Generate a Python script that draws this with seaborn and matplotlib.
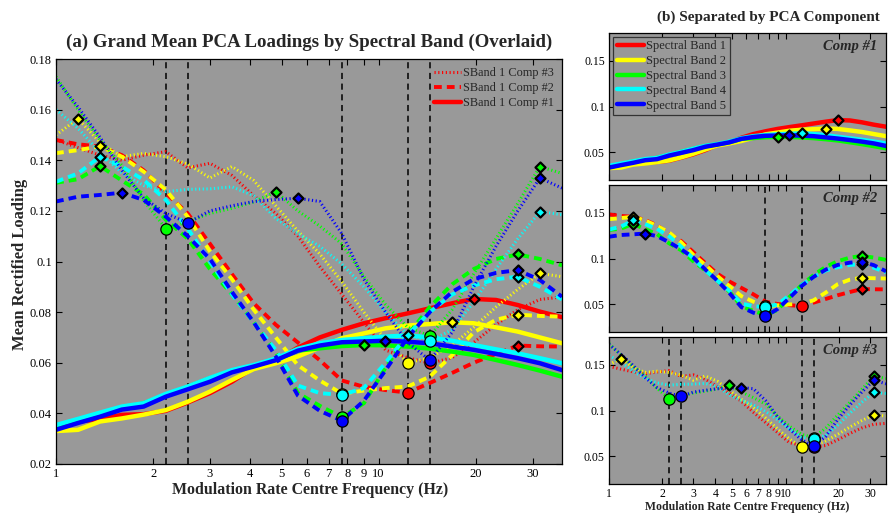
import matplotlib
matplotlib.use("Agg")
import numpy as np
import pandas as pd
import matplotlib.pyplot as plt
from matplotlib.lines import Line2D
from matplotlib.ticker import FixedLocator, FixedFormatter, NullLocator
import seaborn as sns

sns.set_style("ticks")
plt.rcParams["font.family"] = ["Liberation Serif", "DejaVu Serif"]

# Modulation-rate filter centre frequencies (Hz)
freq = [1.00, 1.17, 1.37, 1.60, 1.87, 2.19, 2.56, 3.00, 3.51, 4.10, 4.80, 5.62,
        6.57, 7.69, 9.00, 10.5, 12.3, 14.4, 16.9, 19.7, 23.1, 27.0, 31.6, 37.0]

band_names = ["Spectral Band 1", "Spectral Band 2", "Spectral Band 3",
              "Spectral Band 4", "Spectral Band 5"]
band_colors = ["#ff0000", "#ffff00", "#00ff00", "#00ffff", "#0000ff"]

# Component 1 loadings per band
comp1_band1 = [0.0335, 0.0367, 0.0378, 0.0394, 0.0397, 0.0410, 0.0443, 0.0480, 0.0525, 0.0580, 0.0608, 0.0660,
               0.0700, 0.0730, 0.0756, 0.0776, 0.0795, 0.0815, 0.0835, 0.0852, 0.0848, 0.0828, 0.0802, 0.0780]
comp1_band2 = [0.0330, 0.0335, 0.0368, 0.0380, 0.0395, 0.0413, 0.0446, 0.0486, 0.0532, 0.0575, 0.0598, 0.0625,
               0.0660, 0.0697, 0.0716, 0.0736, 0.0747, 0.0753, 0.0760, 0.0756, 0.0740, 0.0723, 0.0700, 0.0677]
comp1_band3 = [0.0340, 0.0370, 0.0400, 0.0420, 0.0440, 0.0472, 0.0505, 0.0538, 0.0568, 0.0588, 0.0612, 0.0648,
               0.0657, 0.0666, 0.0670, 0.0669, 0.0664, 0.0656, 0.0644, 0.0631, 0.0611, 0.0591, 0.0569, 0.0545]
comp1_band4 = [0.0354, 0.0378, 0.0403, 0.0427, 0.0440, 0.0477, 0.0506, 0.0540, 0.0571, 0.0591, 0.0617, 0.0655,
               0.0677, 0.0690, 0.0697, 0.0703, 0.0708, 0.0700, 0.0687, 0.0670, 0.0653, 0.0637, 0.0618, 0.0598]
comp1_band5 = [0.0335, 0.0362, 0.0387, 0.0415, 0.0427, 0.0466, 0.0495, 0.0525, 0.0562, 0.0585, 0.0610, 0.0648,
               0.0668, 0.0681, 0.0684, 0.0687, 0.0683, 0.0677, 0.0664, 0.0651, 0.0635, 0.0618, 0.0598, 0.0571]

# Component 2 loadings per band
comp2_band1 = [0.1480, 0.1463, 0.1454, 0.1420, 0.1360, 0.1270, 0.1190, 0.1070, 0.0950, 0.0835, 0.0750, 0.0680,
               0.0610, 0.0530, 0.0505, 0.0492, 0.0482, 0.0520, 0.0560, 0.0600, 0.0635, 0.0668, 0.0665, 0.0664]
comp2_band2 = [0.1428, 0.1440, 0.1455, 0.1414, 0.1355, 0.1283, 0.1177, 0.1040, 0.0930, 0.0810, 0.0700, 0.0590,
               0.0530, 0.0478, 0.0490, 0.0500, 0.0506, 0.0545, 0.0630, 0.0720, 0.0770, 0.0790, 0.0785, 0.0782]
comp2_band3 = [0.1311, 0.1325, 0.1377, 0.1320, 0.1265, 0.1165, 0.1090, 0.0970, 0.0870, 0.0760, 0.0640, 0.0480,
               0.0430, 0.0385, 0.0440, 0.0580, 0.0710, 0.0820, 0.0910, 0.0970, 0.1010, 0.1028, 0.1010, 0.0985]
comp2_band4 = [0.1315, 0.1348, 0.1414, 0.1375, 0.1322, 0.1243, 0.1130, 0.1000, 0.0870, 0.0760, 0.0650, 0.0510,
               0.0480, 0.0473, 0.0500, 0.0600, 0.0710, 0.0800, 0.0870, 0.0905, 0.0930, 0.0940, 0.0900, 0.0850]
comp2_band5 = [0.1237, 0.1256, 0.1263, 0.1272, 0.1243, 0.1177, 0.1100, 0.1010, 0.0880, 0.0760, 0.0625, 0.0470,
               0.0410, 0.0371, 0.0450, 0.0570, 0.0700, 0.0800, 0.0880, 0.0930, 0.0955, 0.0966, 0.0927, 0.0861]

# Component 3 loadings per band
comp3_band1 = [0.1480, 0.1450, 0.1420, 0.1400, 0.1420, 0.1434, 0.1370, 0.1388, 0.1340, 0.1260, 0.1190, 0.1100,
               0.0980, 0.0870, 0.0760, 0.0650, 0.0620, 0.0598, 0.0620, 0.0680, 0.0750, 0.0810, 0.0850, 0.0860]
comp3_band2 = [0.1500, 0.1564, 0.1470, 0.1414, 0.1427, 0.1414, 0.1385, 0.1330, 0.1375, 0.1320, 0.1220, 0.1120,
               0.1030, 0.0920, 0.0800, 0.0690, 0.0600, 0.0620, 0.0670, 0.0740, 0.0820, 0.0890, 0.0953, 0.0940]
comp3_band3 = [0.1730, 0.1600, 0.1480, 0.1380, 0.1240, 0.1130, 0.1157, 0.1190, 0.1210, 0.1235, 0.1276, 0.1200,
               0.1140, 0.1070, 0.0940, 0.0830, 0.0740, 0.0706, 0.0810, 0.0950, 0.1090, 0.1230, 0.1375, 0.1348]
comp3_band4 = [0.1600, 0.1526, 0.1430, 0.1350, 0.1300, 0.1276, 0.1285, 0.1287, 0.1295, 0.1260, 0.1170, 0.1110,
               0.1060, 0.0990, 0.0900, 0.0800, 0.0710, 0.0687, 0.0730, 0.0840, 0.0970, 0.1090, 0.1197, 0.1185]
comp3_band5 = [0.1720, 0.1610, 0.1490, 0.1360, 0.1250, 0.1190, 0.1153, 0.1200, 0.1220, 0.1237, 0.1245, 0.1250,
               0.1237, 0.1110, 0.0930, 0.0800, 0.0680, 0.0610, 0.0720, 0.0900, 0.1060, 0.1200, 0.1330, 0.1290]

loadings = {
    1: [comp1_band1, comp1_band2, comp1_band3, comp1_band4, comp1_band5],
    2: [comp2_band1, comp2_band2, comp2_band3, comp2_band4, comp2_band5],
    3: [comp3_band1, comp3_band2, comp3_band3, comp3_band4, comp3_band5],
}

# Indices of marked peaks (diamonds) and troughs (circles), per component and band
peaks = {
    1: [[19], [18], [14], [16], [15]],
    2: [[21], [2, 21], [2, 21], [2, 21], [3, 21]],
    3: [[], [1, 22], [10, 22], [22], [11, 22]],
}
troughs = {
    1: [[], [], [], [], []],
    2: [[16], [13], [13], [13], [13]],
    3: [[17], [16], [5, 17], [17], [6, 17]],
}

rows = []
for comp, bands in loadings.items():
    for b, vals in enumerate(bands):
        for f, v in zip(freq, vals):
            rows.append({"freq": f, "loading": v, "band": band_names[b], "comp": comp})
df = pd.DataFrame(rows)

line_styles = {
    1: dict(linestyle="-", lw=3.2),
    2: dict(linestyle=(0, (2.0, 1.3)), lw=2.8),
    3: dict(linestyle=(0, (0.38, 0.85)), lw=2.2),
}

GRAY = "#999999"
xticks = [1, 2, 3, 4, 5, 6, 7, 8, 9, 10, 20, 30]


def style_axes(ax, yticks, ylabels, label_size, show_x=True):
    ax.set_facecolor(GRAY)
    ax.set_xscale("log")
    ax.set_xlim(1, 37)
    ax.set_ylim(0.02, 0.18)
    ax.xaxis.set_major_locator(FixedLocator(xticks))
    ax.xaxis.set_major_formatter(FixedFormatter([str(t) for t in xticks]))
    ax.xaxis.set_minor_locator(NullLocator())
    ax.yaxis.set_major_locator(FixedLocator(yticks))
    ax.yaxis.set_major_formatter(FixedFormatter(ylabels))
    ax.yaxis.set_minor_locator(NullLocator())
    ax.tick_params(direction="in", top=True, right=True, length=4, width=0.8,
                   labelsize=label_size, colors="k", pad=3)
    if not show_x:
        ax.tick_params(labelbottom=False)
    for sp in ax.spines.values():
        sp.set_linewidth(0.9)
        sp.set_color("k")
    ax.set_xlabel("")
    ax.set_ylabel("")


def draw_component(ax, comp, zbase=2):
    for b in range(5):
        sub = df[(df["comp"] == comp) & (df["band"] == band_names[b])]
        sns.lineplot(data=sub, x="freq", y="loading", ax=ax, color=band_colors[b],
                     estimator=None, sort=False, legend=False, zorder=zbase,
                     **line_styles[comp])


def draw_markers(ax, comp):
    vals = loadings[comp]
    for b in range(5):
        idx = peaks[comp][b]
        if idx:
            sns.scatterplot(x=[freq[i] for i in idx], y=[vals[b][i] for i in idx], ax=ax,
                            marker="D", s=26, color=band_colors[b], edgecolor="k",
                            linewidth=1.6, zorder=6, legend=False)
    for b in range(5):
        idx = troughs[comp][b]
        if idx:
            sns.scatterplot(x=[freq[i] for i in idx], y=[vals[b][i] for i in idx], ax=ax,
                            marker="o", s=66, color=band_colors[b], edgecolor="k",
                            linewidth=0.9, zorder=7, legend=False)


def trough_freqs(comps):
    out = set()
    for c in comps:
        for idx in troughs[c]:
            for i in idx:
                out.add(freq[i])
    return sorted(out)


fig = plt.figure(figsize=(8.89, 5.14), dpi=100)
fig.patch.set_facecolor("white")

# ---- (a) overlaid panel ----
ax = fig.add_axes([56 / 889, 1 - 464 / 514, 506 / 889, 405 / 514])
for f in trough_freqs([2, 3]):
    ax.axvline(f, color="k", lw=1.1, linestyle=(0, (4, 3)), zorder=1.5)
for b in range(5):
    for comp in (1, 2, 3):
        sub = df[(df["comp"] == comp) & (df["band"] == band_names[b])]
        sns.lineplot(data=sub, x="freq", y="loading", ax=ax, color=band_colors[b],
                     estimator=None, sort=False, legend=False, zorder=2,
                     **line_styles[comp])
for comp in (1, 2, 3):
    draw_markers(ax, comp)
left_yt = [0.02, 0.04, 0.06, 0.08, 0.10, 0.12, 0.14, 0.16, 0.18]
style_axes(ax, left_yt, ["0.02", "0.04", "0.06", "0.08", "0.1", "0.12", "0.14", "0.16", "0.18"], 9)

handles = [Line2D([0], [0], color="#ff0000", **line_styles[c]) for c in (3, 2, 1)]
ax.legend(handles, ["SBand 1 Comp #3", "SBand 1 Comp #2", "SBand 1 Comp #1"],
          loc="upper right", bbox_to_anchor=(1.0, 1.0), frameon=False, fontsize=8.8,
          handlelength=2.2, handletextpad=0.2, labelspacing=0.25, borderaxespad=0.25)

fig.text(309 / 889, 1 - 42 / 514, "(a) Grand Mean PCA Loadings by Spectral Band (Overlaid)",
         ha="center", va="center", fontsize=13.6, fontweight="bold")
fig.text(310 / 889, 1 - 490 / 514, "Modulation Rate Centre Frequency (Hz)",
         ha="center", va="center", fontsize=11.4, fontweight="bold")
fig.text(20 / 889, 1 - 264 / 514, "Mean Rectified Loading", rotation=90,
         ha="center", va="center", fontsize=12, fontweight="bold")

# ---- (b) separated panels ----
right_yt = [0.05, 0.10, 0.15]
bottoms = [1 - 180 / 514, 1 - 332 / 514, 1 - 484 / 514]
for comp, bot in zip((1, 2, 3), bottoms):
    axr = fig.add_axes([609 / 889, bot, 277 / 889, 147 / 514])
    for f in trough_freqs([comp]):
        axr.axvline(f, color="k", lw=1.1, linestyle=(0, (4, 3)), zorder=1.5)
    draw_component(axr, comp)
    draw_markers(axr, comp)
    style_axes(axr, right_yt, ["0.05", "0.1", "0.15"], 8.5, show_x=(comp == 3))
    axr.text(0.968, 0.905, f"Comp #{comp}", transform=axr.transAxes, ha="right",
             va="center", fontsize=10.5, fontweight="bold", fontstyle="italic")
    if comp == 1:
        bh = [Line2D([0], [0], color=c, lw=3.2) for c in band_colors]
        leg = axr.legend(bh, band_names, loc="upper left", bbox_to_anchor=(0.0, 1.0),
                         fontsize=9, frameon=True, fancybox=False, framealpha=1,
                         facecolor=GRAY, edgecolor="#333333", handlelength=2.2,
                         handletextpad=0.2, labelspacing=0.22, borderpad=0.3,
                         borderaxespad=0.3)
        leg.get_frame().set_linewidth(0.9)

fig.text(768 / 889, 1 - 17 / 514, "(b) Separated by PCA Component",
         ha="center", va="center", fontsize=11, fontweight="bold")
fig.text(747 / 889, 1 - 507 / 514, "Modulation Rate Centre Frequency (Hz)",
         ha="center", va="center", fontsize=8.5, fontweight="bold")

fig.savefig("out.png", dpi=100, facecolor="white")
